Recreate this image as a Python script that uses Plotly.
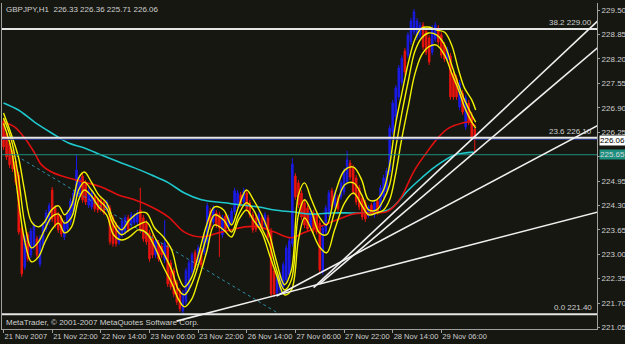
import plotly.graph_objects as go

# ---------------- data ----------------
bar_open = [226.55,226.23,225.96,225.70,225.48,225.11,223.70,222.66,223.52,222.98,223.20,223.41,222.74,223.25,223.67,223.86,
            224.71,224.23,224.05,223.97,223.46,223.67,223.86,224.13,224.53,224.53,225.08,224.90,224.31,224.26,224.53,224.47,
            224.45,224.39,224.18,224.23,223.97,223.78,223.33,223.52,223.59,223.97,223.78,223.84,223.86,224.18,223.97,223.83,
            223.57,223.44,222.98,223.30,223.22,222.85,223.22,222.77,222.56,222.24,222.03,221.49,221.73,222.07,222.53,223.04,
            222.80,223.09,223.06,223.33,224.15,223.86,224.10,224.05,223.52,224.02,223.73,223.86,224.13,224.31,224.58,224.39,
            224.63,224.37,224.05,223.97,223.78,223.97,223.78,223.97,223.62,222.56,221.97,222.05,222.13,222.32,222.45,223.28,
            225.08,224.90,224.63,224.37,224.23,223.73,224.10,224.05,223.83,222.53,223.59,224.07,224.69,224.31,224.50,224.53,
            224.66,224.93,225.43,225.30,225.03,224.77,224.50,224.37,224.02,224.31,224.05,224.42,224.26,224.53,224.66,225.19,
            226.26,226.65,227.19,227.58,228.41,228.30,228.65,228.92,228.78,228.84,229.10,228.94,228.76,228.38,228.73,229.02,
            228.84,228.57,228.17,228.28,227.82,227.69,226.92,227.29,226.39,227.03,226.71,226.33]
bar_high = [226.63,226.31,226.04,225.78,225.56,225.19,223.78,223.52,223.59,223.70,223.86,223.49,223.52,223.86,224.18,224.37,
            224.79,224.31,224.13,224.05,223.91,224.18,224.50,224.71,225.64,225.11,225.16,224.98,224.77,224.71,224.58,224.53,
            224.50,224.45,224.45,224.31,224.05,223.86,223.78,223.97,224.05,224.05,224.13,224.10,224.18,224.77,224.05,223.91,
            223.65,223.52,223.44,223.38,223.30,223.91,223.30,222.85,222.64,222.32,222.11,222.05,222.64,222.85,223.06,223.12,
            223.25,223.17,223.59,224.37,224.23,224.31,224.18,224.13,224.05,224.10,224.05,224.23,224.77,224.71,224.66,224.77,
            224.71,224.45,224.13,224.05,224.13,224.05,224.13,224.05,223.70,222.64,222.45,222.53,222.80,223.25,223.44,225.56,
            225.16,224.98,224.71,224.45,224.31,224.23,224.18,224.13,223.91,223.78,224.31,224.71,224.77,224.71,224.58,224.98,
            225.30,225.75,225.51,225.38,225.11,224.85,224.58,224.45,224.31,224.37,224.45,224.50,224.85,225.11,225.30,226.44,
            227.11,227.50,228.04,228.30,228.49,228.91,229.29,229.53,229.29,229.18,229.18,229.02,228.84,229.10,229.18,229.10,
            228.91,228.65,228.52,228.36,227.90,227.77,227.64,227.37,227.24,227.11,226.79,226.36]
bar_low = [225.78,225.51,225.30,225.19,224.85,223.52,222.40,222.58,222.80,222.90,223.12,222.90,222.66,223.17,223.59,223.78,
           223.86,223.70,223.57,223.46,223.38,223.59,223.78,224.05,224.45,224.45,224.37,224.31,224.23,224.18,224.13,224.10,
           224.13,224.05,224.13,223.25,223.20,223.20,223.25,223.44,223.52,223.59,223.70,223.78,223.78,223.57,223.33,223.25,
           222.80,222.90,222.90,222.80,222.90,222.77,222.13,222.05,221.86,221.65,221.47,221.40,221.65,221.99,222.45,222.58,
           222.72,222.64,222.98,223.25,223.65,223.78,223.70,222.93,223.44,223.59,223.65,223.78,224.05,224.23,224.26,224.31,
           224.13,223.97,223.57,223.59,223.70,223.65,223.70,223.38,221.86,221.86,221.89,221.97,222.05,222.24,222.37,223.20,
           224.45,224.23,223.91,223.70,223.59,223.65,223.57,223.52,222.50,222.45,223.52,223.99,224.18,224.23,224.13,224.45,
           224.58,224.85,224.98,224.58,224.31,224.18,223.91,223.86,223.97,224.05,223.97,224.05,224.18,224.45,224.58,225.11,
           226.18,226.57,227.11,227.50,227.77,228.22,228.57,228.84,228.70,228.76,228.44,228.30,228.04,228.30,228.65,228.57,
           228.22,228.12,228.09,227.11,227.11,227.11,226.84,226.71,226.31,226.44,226.04,225.71]
bar_close = [225.86,225.59,225.38,225.27,224.92,223.59,222.48,223.44,222.88,223.62,223.78,222.98,223.44,223.78,224.10,224.29,
             223.94,223.78,223.65,223.54,223.83,224.10,224.42,224.63,225.24,225.03,224.45,224.39,224.69,224.63,224.21,224.18,
             224.18,224.10,224.39,223.33,223.28,223.28,223.70,223.89,223.97,223.67,224.05,224.05,224.10,223.65,223.41,223.33,
             222.88,222.98,223.36,222.88,222.98,223.30,222.21,222.13,221.94,221.73,221.55,221.97,222.56,222.77,222.98,222.66,
             223.17,222.72,223.52,224.29,223.73,224.23,223.78,223.70,223.97,223.67,223.97,224.15,224.69,224.63,224.34,224.69,
             224.21,224.05,223.65,223.67,224.05,223.73,224.05,223.46,221.94,221.94,222.37,222.45,222.72,223.17,223.36,225.40,
             224.53,224.31,223.99,223.78,223.67,224.15,223.65,223.59,222.58,223.70,224.23,224.63,224.26,224.63,224.21,224.90,
             225.22,225.51,225.06,224.66,224.39,224.26,223.99,223.94,224.26,224.10,224.37,224.13,224.77,225.03,225.22,226.36,
             227.03,227.43,227.96,228.22,227.85,228.84,229.21,229.45,229.21,229.10,228.52,228.38,228.12,229.02,229.10,228.65,
             228.30,228.20,228.44,227.19,227.19,227.19,227.56,226.79,227.16,226.52,226.12,226.06]

# yellow envelope lines (bar position, price)
yel_x = [0,2.6,4.9,6.9,9.2,11.5,13.5,15.8,18.1,20.1,22.4,24.7,26.6,28.9,31.3,33.9,36.2,38.8,41.4,44.4,47.0,49.7,52.6,55.3,
         57.6,59.5,61.8,64.1,66.8,69.4,72.4,75.0,77.3,79.9,82.2,84.9,87.5,89.8,92.4,94.7,97.0,99.0,101.3,103.9,106.3,108.9,
         112.2,115.1,117.8,120.1,122.7,125.0,127.0,128.9,130.9,133.2,135.2,137.5,139.8,142.4,145.1,147.4,149.7,151.6,154.0,155.3]
yel_up = [226.76,226.18,225.59,224.71,223.86,223.73,223.86,224.18,224.29,224.05,224.31,225.03,225.19,224.92,224.58,224.37,
          223.91,223.65,223.91,224.10,224.10,223.70,223.46,223.12,222.40,222.13,222.37,222.98,223.78,224.26,224.18,223.78,
          224.26,224.71,224.45,224.05,223.52,222.80,222.19,222.58,224.58,224.90,224.45,223.99,223.78,224.58,225.24,225.32,
          224.98,224.45,224.45,224.71,225.38,226.44,227.24,228.12,228.70,229.02,229.05,228.97,228.91,228.57,227.90,227.43,
          227.11,226.84]
yel_mid = [226.63,226.04,225.06,223.86,223.17,223.33,223.65,223.99,224.07,223.83,223.99,224.71,224.92,224.71,224.45,224.23,
           223.78,223.52,223.65,223.78,223.86,223.46,223.04,222.58,222.05,221.92,222.19,222.72,223.46,224.05,223.91,223.59,
           224.05,224.37,224.18,223.70,223.25,222.58,222.05,222.32,224.05,224.45,224.13,223.57,223.52,224.13,224.85,224.90,
           224.58,224.18,224.18,224.45,224.85,225.78,226.71,227.64,228.38,228.76,228.89,228.84,228.57,228.04,227.50,227.11,
           226.71,226.52]
yel_lo = [226.49,225.78,224.45,223.38,222.80,222.93,223.30,223.65,223.83,223.57,223.73,224.45,224.71,224.55,224.26,224.05,
          223.52,223.38,223.46,223.65,223.57,223.20,222.66,222.24,221.79,221.60,221.79,222.32,223.06,223.78,223.65,223.46,
          223.91,224.18,223.91,223.59,222.98,222.45,221.92,222.05,223.38,223.97,223.65,223.20,223.04,223.65,224.37,224.63,
          224.31,224.05,224.10,224.18,224.45,225.11,226.04,226.97,227.77,228.30,228.52,228.57,228.30,227.82,227.37,226.92,
          226.52,226.36]

red_x = [0,3.6,6.9,10.2,12.5,15.8,21.4,26.6,32.2,37.8,43.1,48.7,54.3,59.5,65.1,70.7,75,79.3,83.9,89.1,94.7,98.7,103.9,
         109.5,115.1,120.4,126,128.3,130.9,135.2,139.8,143.1,146.4,150.7,153.3,155.3]
red_ma = [226.52,226.39,226.10,225.70,225.38,225.19,225.03,224.92,224.79,224.58,224.45,224.26,223.99,223.59,223.46,223.57,
          223.65,223.73,223.73,223.59,223.44,223.57,223.73,223.91,224.07,224.10,224.13,224.26,224.53,225.24,225.78,226.12,
          226.36,226.49,226.52,226.41]

cyan_x = [0,4.9,10.2,15.8,21.4,26.6,32.2,37.8,43.1,48.7,54.3,59.5,65.1,72.7,78.3,83.9,89.1,94.7,101.3,107.9,114.5,121.1,
          124.3,127.6,133.2,137.5,141.8,148.4,154.6]
cyan_ma = [227.03,226.84,226.52,226.23,225.96,225.83,225.64,225.46,225.30,225.11,224.90,224.63,224.45,224.37,224.31,224.26,
           224.18,224.13,224.07,224.10,224.10,224.10,224.13,224.23,224.71,225.03,225.32,225.64,225.72]

# drawn objects: dotted channel line and white trend lines (bar, price endpoints)
dot_x = [4.3, 90.1]
dot_y = [225.62, 221.44]
trend_x0 = [56.9, 89.8, 104.0, 102.0]
trend_y0 = [221.22, 221.89, 222.21, 222.11]
trend_x1 = [195.7, 195.7, 195.7, 195.7]
trend_y1 = [224.13, 226.44, 228.52, 229.23]

fib_levels = [229.00, 226.10, 221.40]
fib_names = ["38.2", "23.6", "0.0"]
bid_price = 226.06
ask_line = 225.65

x_tick_bars = [0, 16, 32, 48, 64, 80, 96, 112, 128, 144]
x_tick_text = ["21 Nov 2007", "21 Nov 22:00", "22 Nov 14:00", "23 Nov 06:00", "23 Nov 22:00",
               "26 Nov 14:00", "27 Nov 06:00", "27 Nov 22:00", "28 Nov 14:00", "29 Nov 06:00"]
y_ticks = [229.50, 228.85, 228.20, 227.55, 226.90, 226.25, 225.60, 224.95, 224.30, 223.65, 223.00, 222.35, 221.70, 221.05]
y_hidden = [225.60]   # covered by the price label in the reference

symbol = "GBPJPY,H1"

# ---------------- styling ----------------
BG = "#161711"
BLUE = "#1b1be8"
RED = "#e8140f"
YEL = "#f2f200"
FONT = "Liberation Sans"
TXT = "#cfcfcf"
FS = 8
FSX = 7.5

bars = list(range(len(bar_close)))

fig = go.Figure()
fig.add_trace(go.Candlestick(
    x=bars, open=bar_open, high=bar_high, low=bar_low, close=bar_close,
    increasing=dict(line=dict(color=BLUE, width=1), fillcolor=BLUE),
    decreasing=dict(line=dict(color=RED, width=1), fillcolor=RED),
    whiskerwidth=0, hoverinfo="skip"))

fig.add_trace(go.Scatter(x=dot_x, y=dot_y, mode="lines",
                         line=dict(color="#2b8fa8", width=1, dash="dot"), hoverinfo="skip"))
fig.add_trace(go.Scatter(x=cyan_x, y=cyan_ma, mode="lines", line=dict(color="#1ec8cc", width=1.6, shape="spline"),
                         hoverinfo="skip"))
fig.add_trace(go.Scatter(x=red_x, y=red_ma, mode="lines", line=dict(color="#e01010", width=1.6, shape="spline"),
                         hoverinfo="skip"))
for ys in (yel_up, yel_mid, yel_lo):
    fig.add_trace(go.Scatter(x=yel_x, y=ys, mode="lines", line=dict(color=YEL, width=1.4, shape="spline"),
                             hoverinfo="skip"))

# horizontal levels
fig.add_trace(go.Scatter(x=[-1, 197], y=[ask_line, ask_line], mode="lines",
                         line=dict(color="#1e9080", width=1), hoverinfo="skip"))
fig.add_trace(go.Scatter(x=[-1, 197], y=[bid_price, bid_price], mode="lines",
                         line=dict(color="#2a3aa0", width=1), hoverinfo="skip"))
for lv in fib_levels:
    fig.add_trace(go.Scatter(x=[-1, 197], y=[lv, lv], mode="lines",
                             line=dict(color="#e6e6e6", width=2), hoverinfo="skip"))

for x0, y0, x1, y1 in zip(trend_x0, trend_y0, trend_x1, trend_y1):
    fig.add_trace(go.Scatter(x=[x0, x1], y=[y0, y1], mode="lines",
                             line=dict(color="#f0f0f0", width=1.6), hoverinfo="skip"))

ann = []
for lv, nm in zip(fib_levels, fib_names):
    ann.append(dict(x=0.995, xref="paper", y=lv, yref="y", text=f"{nm} {lv:.2f}", showarrow=False,
                    xanchor="right", yanchor="bottom", yshift=0, font=dict(family=FONT, size=FS, color=TXT)))
ann.append(dict(x=1.0035, xref="paper", y=bid_price, yref="y", text=f"{bid_price:.2f}", showarrow=False,
                xanchor="left", yanchor="middle", bgcolor="#ffffff", borderpad=0, yshift=-1,
                font=dict(family=FONT, size=FS, color="#000000")))
ann.append(dict(x=1.0035, xref="paper", y=ask_line, yref="y", text=f"{ask_line:.2f}", showarrow=False,
                xanchor="left", yanchor="middle", bgcolor="#1e9080", borderpad=0,
                font=dict(family=FONT, size=FS, color="#d8d8d8")))
ann.append(dict(x=0.003, xref="paper", y=1, yref="paper", yanchor="top", xanchor="left", showarrow=False,
                text=f"{symbol}  {bar_open[-1]:.2f} {bar_high[-1]:.2f} {bar_low[-1]:.2f} {bar_close[-1]:.2f}",
                font=dict(family=FONT, size=FS, color=TXT)))
ann.append(dict(x=0.003, xref="paper", y=0, yref="paper", yanchor="bottom", xanchor="left", showarrow=False,
                text="MetaTrader, © 2001-2007 MetaQuotes Software Corp.",
                font=dict(family=FONT, size=FS, color=TXT)))

fig.update_layout(
    width=625, height=344, margin=dict(l=2, r=28, t=3, b=15, autoexpand=False),
    paper_bgcolor=BG, plot_bgcolor=BG, showlegend=False, hovermode=False,
    annotations=ann,
    xaxis=dict(range=[-0.5, 195.2], rangeslider=dict(visible=False), showgrid=False, zeroline=False,
               tickmode="array", tickvals=x_tick_bars, ticktext=x_tick_text, ticks="outside", ticklen=3,
               tickcolor="#a0a0a0", ticklabelposition="outside right", tickangle=0, automargin=False,
               tickfont=dict(family=FONT, size=FSX, color=TXT),
               showline=True, linecolor="#a0a0a0", linewidth=1, mirror=False),
    yaxis=dict(range=[221.01, 229.69], side="right", showgrid=False, zeroline=False, automargin=False,
               tickmode="array", tickvals=y_ticks,
               ticktext=["" if v in y_hidden else f"{v:.2f}" for v in y_ticks],
               ticks="outside", ticklen=2, tickcolor="#a0a0a0", ticklabelstandoff=0,
               tickfont=dict(family=FONT, size=FS, color=TXT),
               showline=True, linecolor="#a0a0a0", linewidth=1, mirror=True),
)

fig.write_html("out.html")
